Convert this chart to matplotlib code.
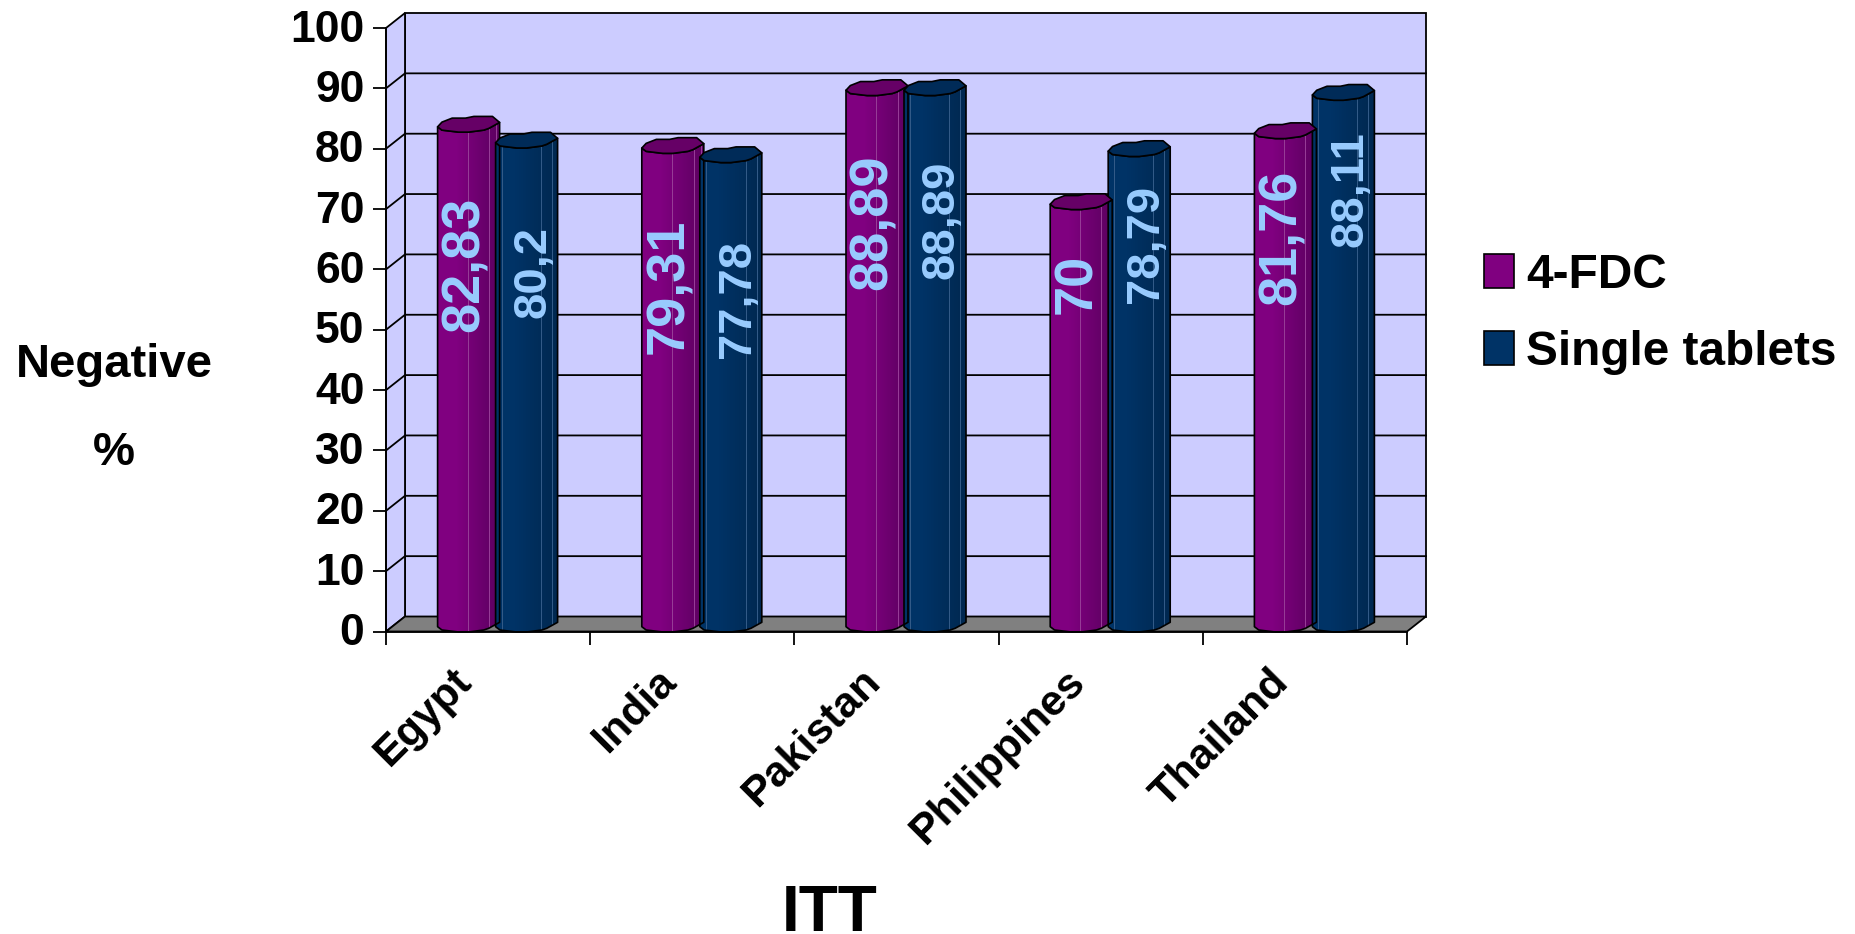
import numpy as np
import matplotlib
matplotlib.use('Agg')
import matplotlib.pyplot as plt
from matplotlib.patches import Patch, Polygon, Rectangle
from matplotlib.transforms import Affine2D

plt.rcParams['font.family'] = ['Liberation Sans', 'DejaVu Sans']
plt.rcParams['font.weight'] = 'bold'

countries = ['Egypt', 'India', 'Pakistan', 'Philippines', 'Thailand']
fdc_values = [82.83, 79.31, 88.89, 70, 81.76]
single_values = [80.2, 77.78, 88.89, 78.79, 88.11]
fdc_labels = ['82,83', '79,31', '88,89', '70', '81,76']
single_labels = ['80,2', '77,78', '88,89', '78,79', '88,11']
yticks = [0, 10, 20, 30, 40, 50, 60, 70, 80, 90, 100]

# how far each value label sits below the top of its bar, in pixels
fdc_drop = [133, 133, 127, 75, 99]
single_drop = [125, 137, 125, 88, 89]

W, H = 1856, 934
PX_X = 1021 / 5      # pixels per category
PX_Y = 603.5 / 100   # pixels per percent
DEPTH_X = 19 / PX_X
DEPTH_Y = 15 / PX_Y
BAR_HALF = 31 / PX_X
BAR_SHIFT = 29 / PX_X

# outline of the cylinder cap: across the bar, then pixels above its centre
CAP_UPPER = [(-1, -2.7), (-0.86, 2), (-0.53, 6), (-0.1, 6), (0.17, 7.7), (0.77, 7.7), (1, 1.7)]
CAP_LOWER = [(1, 1.7), (0.65, -4.3), (0.49, -6), (0, -8), (-0.32, -8), (-0.86, -6), (-1, -2.7)]


def shade(left, right, lines, line_color):
    # one pixel column per step, darkening towards the right side of the bar
    n = 62
    t = np.linspace(0, 1, n)[:, None]
    t = np.clip((t - 0.3) / 0.7, 0, 1)
    cols = np.array(left)[None, :] * (1 - t) + np.array(right)[None, :] * t
    for u in lines:
        cols[int(u * (n - 1))] = line_color
    return cols[None, :, :] / 255


def cylinder(ax, xc, value, cols, cap_color):
    yc = value + DEPTH_Y / 2
    y0 = DEPTH_Y / 2
    lower_top = [(xc + u * BAR_HALF, yc + v / PX_Y) for u, v in CAP_LOWER]
    lower_bot = [(xc + u * BAR_HALF, y0 + v / PX_Y) for u, v in CAP_LOWER]
    # body runs right edge -> left edge along the bottom curve, then back over the top
    body_pts = lower_bot + lower_top[::-1]
    body = Polygon(body_pts, closed=True, facecolor='none', edgecolor='black', lw=1.2,
                   zorder=5, clip_on=False, joinstyle='round')
    ax.add_patch(body)
    im = ax.imshow(cols, extent=(xc - BAR_HALF, xc + BAR_HALF, -2, yc + 2), aspect='auto',
                   interpolation='nearest', zorder=4, clip_on=True)
    im.set_clip_path(body)
    cap = Polygon([(xc + u * BAR_HALF, yc + v / PX_Y) for u, v in CAP_UPPER + CAP_LOWER[1:]],
                  closed=True, facecolor=cap_color, edgecolor='black', lw=1.2, zorder=6,
                  clip_on=False, joinstyle='round')
    ax.add_patch(cap)


fig = plt.figure(figsize=(W / 100, H / 100), dpi=100, facecolor='white')
ax = fig.add_axes([386 / W, 1 - 631.5 / H, 1021 / W, 603.5 / H])
ax.patch.set_visible(False)

# walls and floor of the box
ax.add_patch(Rectangle((DEPTH_X, DEPTH_Y), 5, 100, facecolor='#CCCCFF', edgecolor='black',
                       lw=1.3, zorder=1, clip_on=False))
ax.add_patch(Polygon([(0, 0), (DEPTH_X, DEPTH_Y), (DEPTH_X, 100 + DEPTH_Y), (0, 100)], closed=True,
                     facecolor='#CCCCFF', edgecolor='black', lw=1.3, zorder=1, clip_on=False))
ax.add_patch(Polygon([(0, 0), (DEPTH_X, DEPTH_Y), (5 + DEPTH_X, DEPTH_Y), (5, 0)], closed=True,
                     facecolor='#808080', edgecolor='black', lw=1.3, zorder=2, clip_on=False))
for v in yticks[1:-1]:
    ax.plot([0, DEPTH_X, 5 + DEPTH_X], [v, v + DEPTH_Y, v + DEPTH_Y], color='black', lw=1.3,
            zorder=2, clip_on=False, solid_joinstyle='miter')

fdc_cols = shade((128, 0, 128), (92, 0, 96), [0.5, 0.84, 0.96], (150, 60, 150))
single_cols = shade((0, 51, 102), (0, 40, 80), [0.1, 0.74, 0.92], (50, 90, 135))

for i in range(len(countries)):
    x_fdc = i + 0.5 - BAR_SHIFT + DEPTH_X / 2
    x_single = i + 0.5 + BAR_SHIFT + DEPTH_X / 2
    cylinder(ax, x_fdc, fdc_values[i], fdc_cols, '#660066')
    cylinder(ax, x_single, single_values[i], single_cols, '#002B58')
    ax.annotate(fdc_labels[i], (x_fdc, fdc_values[i]), xytext=(-4, -fdc_drop[i]),
                textcoords='offset pixels', rotation=90, ha='center', va='center',
                fontsize=39, color='#99CCFF', zorder=8)
    ax.annotate(single_labels[i], (x_single, single_values[i]), xytext=(7, -single_drop[i]),
                textcoords='offset pixels', rotation=90, ha='center', va='center',
                fontsize=34, color='#99CCFF', zorder=8)

ax.set_xlim(0, 5)
ax.set_ylim(0, 100)
ax.spines['top'].set_visible(False)
ax.spines['right'].set_visible(False)
ax.spines['left'].set_linewidth(1.3)
ax.spines['bottom'].set_linewidth(1.3)
ax.spines['left'].set_zorder(7)
ax.spines['bottom'].set_zorder(7)

ax.set_yticks(yticks)
ax.set_xticks(range(6))
ax.set_xticklabels([])
ax.tick_params(axis='both', which='major', length=9.5, width=1.3, direction='out')
ax.tick_params(axis='y', pad=6, labelsize=32)
for lbl in ax.get_yticklabels():
    lbl.set_transform(lbl.get_transform() + Affine2D().translate(0, 2.5))
# category names hang to the left of the group centres
ax.set_xticks(np.arange(5) + 0.39, minor=True)
ax.set_xticklabels(countries, minor=True, rotation=45, ha='right', rotation_mode='anchor',
                   fontsize=31, va='center')
ax.tick_params(axis='x', which='minor', length=0, pad=32)

fig.text(114 / W, 1 - 365 / H, 'Negative', fontsize=34, ha='center', va='center')
fig.text(114 / W, 1 - 453 / H, '%', fontsize=34, ha='center', va='center')
fig.text(830 / W, 1 - 931 / H, 'ITT', fontsize=46, ha='center', va='baseline')

handles = [Patch(facecolor='#800080', edgecolor='black', lw=1.2, label='4-FDC'),
           Patch(facecolor='#003366', edgecolor='black', lw=1.2, label='Single tablets')]
fig.legend(handles=handles, loc='upper left', bbox_to_anchor=(1484 / W, 1 - 253 / H), frameon=False,
           fontsize=34.4, handlelength=0.62, handleheight=0.72, handletextpad=0.26,
           labelspacing=0.67, borderpad=0, borderaxespad=0)

fig.savefig('out.png', dpi=100)
